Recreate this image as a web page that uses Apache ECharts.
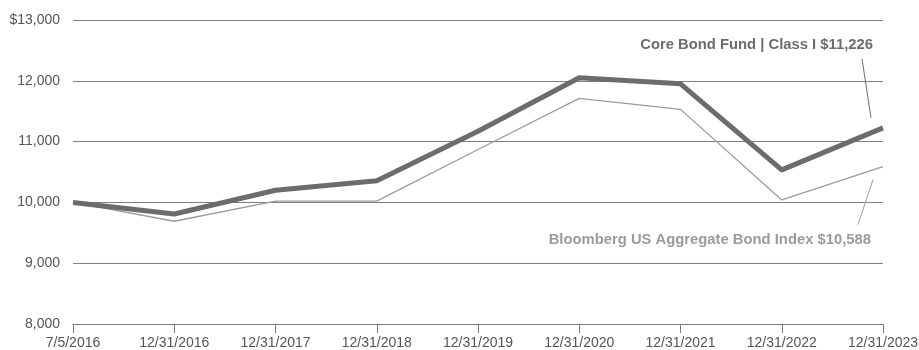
<!DOCTYPE html>
<html>
<head>
<meta charset="utf-8">
<script src="https://cdn.jsdelivr.net/npm/echarts@6/dist/echarts.min.js"></script>
<style>
  html, body { margin: 0; padding: 0; background: #fff; }
  #chart { width: 919px; height: 350px; }
</style>
</head>
<body>
<div id="chart"></div>
<script>
// Growth of a $10,000 investment
const dates = ['7/5/2016', '12/31/2016', '12/31/2017', '12/31/2018', '12/31/2019',
               '12/31/2020', '12/31/2021', '12/31/2022', '12/31/2023'];
const fundValues = [10000, 9810, 10200, 10355, 11170, 12050, 11950, 10535, 11226];
const indexValues = [10000, 9690, 10020, 10020, 10870, 11710, 11530, 10040, 10588];
const fundName = 'Core Bond Fund | Class I';
const indexName = 'Bloomberg US Aggregate Bond Index';
const yTicks = [8000, 9000, 10000, 11000, 12000, 13000];

const fontFamily = '"Liberation Sans", Arial, sans-serif';
const fmt = v => v.toLocaleString('en-US');

const chart = echarts.init(document.getElementById('chart'));
chart.setOption({
  animation: false,
  grid: { left: 73, right: 36, top: 20, bottom: 26, outerBoundsMode: 'none' },
  xAxis: {
    type: 'category',
    data: dates,
    boundaryGap: false,
    axisLine: { lineStyle: { color: '#7a7a7a', width: 1 } },
    axisTick: { show: true, length: 9, alignWithLabel: true, lineStyle: { color: '#7a7a7a' } },
    axisLabel: { color: '#555', fontSize: 14, fontFamily, margin: 12, interval: 0 },
    splitLine: { show: false }
  },
  yAxis: {
    type: 'value',
    min: yTicks[0],
    max: yTicks[yTicks.length - 1],
    interval: 1000,
    axisLine: { show: false },
    axisTick: { show: false },
    axisLabel: {
      color: '#555', fontSize: 14, fontFamily, margin: 13,
      formatter: v => (v === yTicks[yTicks.length - 1] ? '$' : '') + fmt(v)
    },
    splitLine: {
      show: true,
      lineStyle: { color: '#7f7f7f', width: 1 }
    }
  },
  series: [
    {
      name: indexName,
      type: 'line',
      data: indexValues,
      symbol: 'none',
      lineStyle: { color: '#9b9b9b', width: 1.3 },
      z: 2
    },
    {
      name: fundName,
      type: 'line',
      data: fundValues,
      symbol: 'none',
      lineStyle: { color: '#6c6c6f', width: 5, join: 'round' },
      z: 3
    }
  ]
});

// Callout labels with leader lines attached to the final data points
const last = dates.length - 1;
const pFund = chart.convertToPixel({ seriesIndex: 1 }, [last, fundValues[last]]);
const pIndex = chart.convertToPixel({ seriesIndex: 0 }, [last, indexValues[last]]);
chart.setOption({
  graphic: [
    {
      type: 'line',
      shape: { x1: pFund[0] - 12, y1: pFund[1] - 10, x2: pFund[0] - 21, y2: pFund[1] - 69 },
      style: { stroke: '#6c6c6f', lineWidth: 1 }
    },
    {
      type: 'text',
      style: {
        text: fundName + ' $' + fmt(fundValues[last]),
        x: pFund[0] - 10, y: pFund[1] - 83,
        align: 'right', verticalAlign: 'middle',
        fill: '#6c6c6f', font: 'bold 14.8px ' + fontFamily
      }
    },
    {
      type: 'line',
      shape: { x1: pIndex[0] - 10, y1: pIndex[1] + 13, x2: pIndex[0] - 25, y2: pIndex[1] + 58 },
      style: { stroke: '#9b9b9b', lineWidth: 1 }
    },
    {
      type: 'text',
      style: {
        text: indexName + ' $' + fmt(indexValues[last]),
        x: pIndex[0] - 12, y: pIndex[1] + 73,
        align: 'right', verticalAlign: 'middle',
        fill: '#9b9b9b', font: 'bold 14.8px ' + fontFamily
      }
    }
  ]
});
</script>
</body>
</html>
